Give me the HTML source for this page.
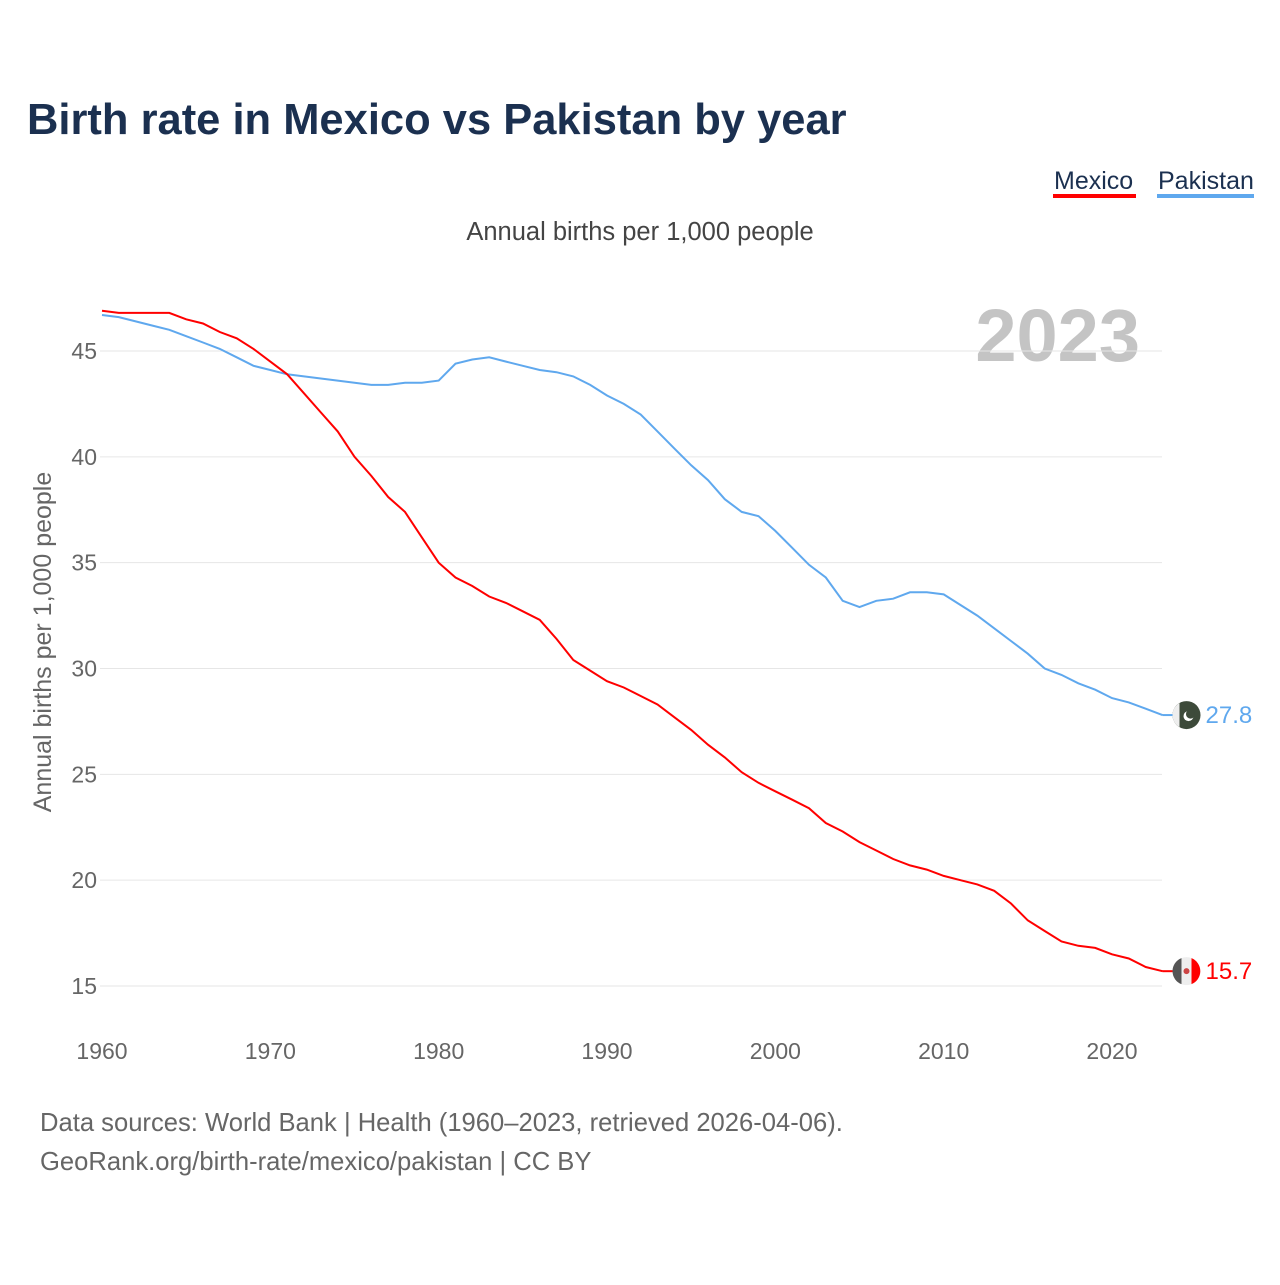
<!DOCTYPE html>
<html><head><meta charset="utf-8">
<style>
html,body{margin:0;padding:0;background:#fff;}
body{width:1280px;height:1280px;overflow:hidden;font-family:"Liberation Sans",sans-serif;}
svg text{font-family:"Liberation Sans",sans-serif;}
</style></head>
<body>
<svg id="chart" width="1280" height="1280" viewBox="0 0 1280 1280">
  <text x="27" y="134" font-size="43.5" font-weight="bold" fill="#1b3050">Birth rate in Mexico vs Pakistan by year</text>
  <g>
    <text x="1054" y="189" font-size="25" fill="#1b3050">Mexico</text>
    <rect x="1053" y="194" width="83" height="4" fill="#ff0000"/>
    <text x="1158" y="189" font-size="25" fill="#1b3050">Pakistan</text>
    <rect x="1157" y="194" width="97" height="4" fill="#5fa8ee"/>
  </g>
  <text x="640" y="240" font-size="25.5" fill="#444" text-anchor="middle">Annual births per 1,000 people</text>
  <text x="1140" y="361" font-size="74" font-weight="bold" fill="#c4c4c4" text-anchor="end">2023</text>
  <text transform="translate(51,642) rotate(-90)" font-size="25" fill="#666" text-anchor="middle">Annual births per 1,000 people</text>
  <g id="grid"></g>
  <g id="xticks"></g>
  <g id="lines"></g>
  <g id="ends"></g>
  <text x="40" y="1131" font-size="25.6" fill="#666">Data sources: World Bank | Health (1960–2023, retrieved 2026-04-06).</text>
  <text x="40" y="1170" font-size="25.6" fill="#666">GeoRank.org/birth-rate/mexico/pakistan | CC BY</text>
</svg>
<script>
const years = [];
for (let y = 1960; y <= 2023; y++) years.push(y);
const mexico = [46.9,46.8,46.8,46.8,46.8,46.5,46.3,45.9,45.6,45.1,44.5,43.9,43.0,42.1,41.2,40.0,39.1,38.1,37.4,36.2,35.0,34.3,33.9,33.4,33.1,32.7,32.3,31.4,30.4,29.9,29.4,29.1,28.7,28.3,27.7,27.1,26.4,25.8,25.1,24.6,24.2,23.8,23.4,22.7,22.3,21.8,21.4,21.0,20.7,20.5,20.2,20.0,19.8,19.5,18.9,18.1,17.6,17.1,16.9,16.8,16.5,16.3,15.9,15.7];
const pakistan = [46.7,46.6,46.4,46.2,46.0,45.7,45.4,45.1,44.7,44.3,44.1,43.9,43.8,43.7,43.6,43.5,43.4,43.4,43.5,43.5,43.6,44.4,44.6,44.7,44.5,44.3,44.1,44.0,43.8,43.4,42.9,42.5,42.0,41.2,40.4,39.6,38.9,38.0,37.4,37.2,36.5,35.7,34.9,34.3,33.2,32.9,33.2,33.3,33.6,33.6,33.5,33.0,32.5,31.9,31.3,30.7,30.0,29.7,29.3,29.0,28.6,28.4,28.1,27.8];
const yTicks = [15,20,25,30,35,40,45];
const xTicks = [1960,1970,1980,1990,2000,2010,2020];

const NS = "http://www.w3.org/2000/svg";
const xS = v => 102 + (v - 1960) * (1010 / 60);
const yS = v => 351 + (45 - v) * (635 / 30);
function mk(tag, attrs, parent) {
  const e = document.createElementNS(NS, tag);
  for (const k in attrs) e.setAttribute(k, attrs[k]);
  parent.appendChild(e);
  return e;
}
const grid = document.getElementById('grid');
yTicks.forEach(t => {
  const l = mk('line', {x1: 100, x2: 1162, y1: yS(t), y2: yS(t), stroke: '#e6e6e6', 'stroke-width': 1}, grid);
  
  
  const tx = mk('text', {x: 97, y: yS(t) + 8, 'font-size': 23, fill: '#666', 'text-anchor': 'end'}, grid);
  tx.textContent = t;
  
  
});
const xg = document.getElementById('xticks');
xTicks.forEach(t => {
  const tx = mk('text', {x: xS(t), y: 1059, 'font-size': 23, fill: '#666', 'text-anchor': 'middle'}, xg);
  tx.textContent = t;
  
  
});
const lg = document.getElementById('lines');
function drawLine(vals, color, name) {
  const d = vals.map((v, i) => (i ? 'L' : 'M') + xS(years[i]).toFixed(1) + ',' + yS(v).toFixed(1)).join(' ');
  const p = mk('path', {d: d, fill: 'none', stroke: color, 'stroke-width': 2}, lg);
  
  
}
drawLine(pakistan, '#5fa8ee', 'line-pakistan');
drawLine(mexico, '#ff0000', 'line-mexico');

const eg = document.getElementById('ends');
function endMark(vals, color, name, flag) {
  const v = vals[vals.length - 1];
  const x = xS(years[years.length - 1]), y = yS(v);
  const cx = x + 24;
  mk('line', {x1: x, x2: cx - 12, y1: y, y2: y, stroke: color, 'stroke-width': 2}, eg);
  const g = mk('g', {}, eg);
  
  
  if (flag === 'pk') {
    mk('circle', {cx: cx, cy: y, r: 14, fill: '#3d4a3a'}, g);
    mk('path', {d: `M${cx-14},${y} a14,14 0 0 1 7,-12.1 v24.2 a14,14 0 0 1 -7,-12.1z`, fill: '#eee'}, g);
    mk('circle', {cx: cx + 2, cy: y + 1, r: 5, fill: '#fff'}, g);
    mk('circle', {cx: cx + 4, cy: y - 1, r: 4.5, fill: '#3d4a3a'}, g);
  } else {
    mk('circle', {cx: cx, cy: y, r: 14, fill: '#eee'}, g);
    mk('path', {d: `M${cx-14},${y} a14,14 0 0 1 9,-13 v26 a14,14 0 0 1 -9,-13z`, fill: '#555'}, g);
    mk('path', {d: `M${cx+5},${y-13} a14,14 0 0 1 0,26z`, fill: '#ff0000'}, g);
    mk('circle', {cx: cx, cy: y, r: 3, fill: '#c44'}, g);
  }
  const t = mk('text', {x: cx + 19, y: y + 8, 'font-size': 24, fill: color}, eg);
  t.textContent = v.toFixed(1);
  
  
}
endMark(pakistan, '#5fa8ee', 'pakistan', 'pk');
endMark(mexico, '#ff0000', 'mexico', 'mx');
</script>
</body></html>
